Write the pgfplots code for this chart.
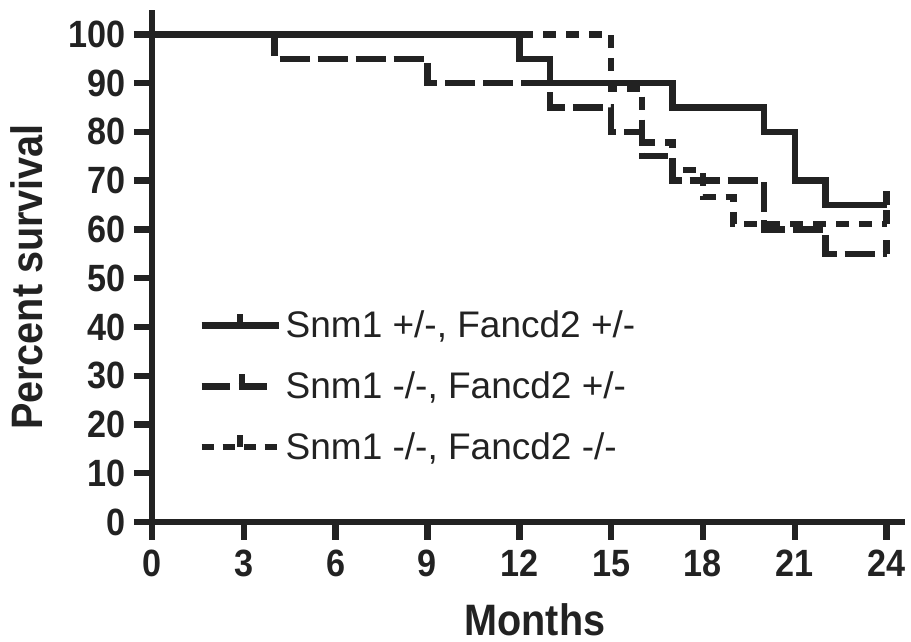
\documentclass[border=0pt]{standalone}
\usepackage{pgfplots}
\pgfplotsset{compat=1.18}
\usepackage{fontspec}
\setmainfont{Liberation Sans}
\newfontfamily\narrowfont[FakeStretch=0.9]{Liberation Sans}
\definecolor{ink}{HTML}{222222}
\pgfdeclareplotmark{uptick}{\pgfpathmoveto{\pgfqpoint{0pt}{0pt}}\pgfpathlineto{\pgfqpoint{0pt}{7pt}}\pgfusepathqstroke}
\begin{document}
\begin{tikzpicture}
\useasboundingbox (-76pt,-60pt) rectangle (379.5pt,261pt);
\begin{axis}[
  at={(0,0)}, anchor=south west,
  scale only axis, width=376.5pt, height=256pt,
  xmin=0, xmax=24.6, ymin=0, ymax=105,
  axis lines=left,
  axis line style={-, line width=3.2pt, ink},
  xtick={0,3,...,24}, ytick={0,10,...,100},
  tick align=outside, major tick length=9pt,
  tick style={line width=3.2pt, ink},
  /pgf/number format/assume math mode=true,
  ticklabel style={font=\narrowfont\bfseries\fontsize{19}{19}\selectfont, text=ink},
  xticklabel style={yshift=-1.5pt},
  yticklabel style={xshift=-0.5pt},
  xlabel={Months}, ylabel={Percent survival},
  every axis x label/.style={at={(axis description cs:0.5086,-0.1914)}, anchor=center, font=\narrowfont\bfseries\fontsize{22}{22}\selectfont, text=ink},
  every axis y label/.style={at={(axis description cs:-0.166,0.4785)}, anchor=center, rotate=90, font=\narrowfont\bfseries\fontsize{22}{22}\selectfont, text=ink},
  legend style={at={(axis description cs:0.053,0.265)}, anchor=west, draw=none, fill=none,
    font=\fontsize{18.5}{22}\selectfont, text=ink, row sep=11.5pt},
  legend cell align=left,
  clip=false,
]
\addplot[const plot, line width=3.2pt, ink, line join=miter,
  legend image code/.code={\draw[line width=3.2pt, ink] (0pt,0pt) -- (38.5pt,0pt); \draw[line width=3.2pt, ink] (19.25pt,0pt) -- (19.25pt,6pt);}]
  coordinates {(0,100) (12,95) (13,90) (17,85) (20,80) (21,70) (22,65) (24,65)};
\addlegendentry{Snm1 +/-, Fancd2 +/-}
\addplot[const plot, line width=3.2pt, ink, line join=miter, dash pattern=on 15pt off 4pt,
  legend image code/.code={\draw[line width=3.2pt, ink, dash pattern=on 14pt off 4.5pt] (0pt,0pt) -- (33pt,0pt); \draw[line width=3.2pt, ink] (20.1pt,0pt) -- (20.1pt,6pt);}]
  coordinates {(0,100) (4,95) (9,90) (13,85) (15,80) (16,75) (17,70) (20,60) (22,55) (24,55)};
\addlegendentry{Snm1 -/-, Fancd2 +/-}
\addplot[const plot, line width=3.2pt, ink, line join=miter, dash pattern=on 6.5pt off 5pt,
  legend image code/.code={\draw[line width=3.2pt, ink, dash pattern=on 6pt off 4.5pt] (0pt,0pt) -- (38.5pt,0pt); \draw[line width=3.2pt, ink] (19.25pt,0pt) -- (19.25pt,6pt);}]
  coordinates {(0,100) (15,88.9) (16,77.8) (17,72.2) (18,66.7) (19,61.1) (24,61.1)};
\addlegendentry{Snm1 -/-, Fancd2 -/-}
\addplot[only marks, mark=uptick, mark options={solid, line width=3.2pt, ink}, forget plot]
  coordinates {(24,65) (24,55) (24,61.1)};
\end{axis}
\end{tikzpicture}
\end{document}
